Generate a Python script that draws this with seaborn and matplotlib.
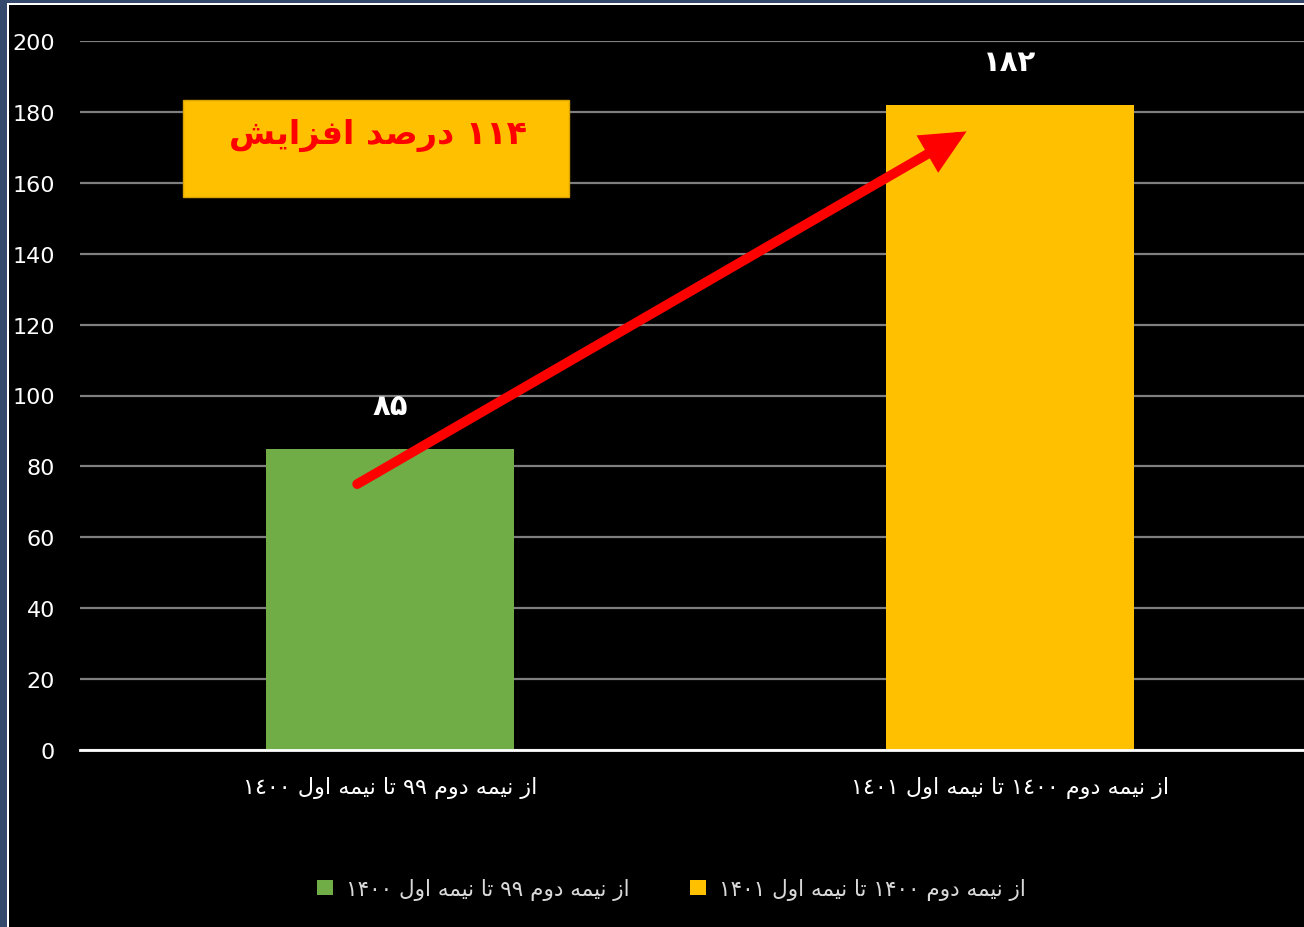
import matplotlib
matplotlib.use("Agg")
import matplotlib.pyplot as plt
from matplotlib.patches import Rectangle, Patch
import seaborn as sns
import pandas as pd

NAVY   = "#34496b"
GREEN  = "#70AD47"
YELLOW = "#FFC000"
RED    = "#FF0000"
GRID   = "#7f7f7f"
LEGTXT = "#d9d9d9"

# ── data ────────────────────────────────────────────────────────────────────
periods = ["از نیمه دوم ٩٩ تا نیمه اول ١٤٠٠",
           "از نیمه دوم ١٤٠٠ تا نیمه اول ١٤٠١"]
legend_labels = ["از نیمه دوم ۹۹ تا نیمه اول ۱۴۰۰",
                 "از نیمه دوم ۱۴۰۰ تا نیمه اول ۱۴۰۱"]
counts = [85, 182]
bar_colors = [GREEN, YELLOW]
growth_text = "۱۱۴ درصد افزایش"
y_ticks = [0, 20, 40, 60, 80, 100, 120, 140, 160, 180, 200]

# arrow annotation (data units)
arrow_from = (-0.053, 75)
arrow_to   = (0.93, 174.5)

# ── tiny Persian shaper (matplotlib has no RTL / joining support) ──────────
FORMS = {  # isolated, final, initial, medial
    "ا": ("\uFE8D", "\uFE8E", None, None),
    "ز": ("\uFEAF", "\uFEB0", None, None),
    "د": ("\uFEA9", "\uFEAA", None, None),
    "ر": ("\uFEAD", "\uFEAE", None, None),
    "و": ("\uFEED", "\uFEEE", None, None),
    "ن": ("\uFEE5", "\uFEE6", "\uFEE7", "\uFEE8"),
    "ی": ("\uFBFC", "\uFBFD", "\uFEF3", "\uFEF4"),
    "م": ("\uFEE1", "\uFEE2", "\uFEE3", "\uFEE4"),
    "ه": ("\uFEE9", "\uFEEA", "\uFEEB", "\uFEEC"),
    "ت": ("\uFE95", "\uFE96", "\uFE97", "\uFE98"),
    "ل": ("\uFEDD", "\uFEDE", "\uFEDF", "\uFEE0"),
    "ص": ("\uFEB9", "\uFEBA", "\uFEBB", "\uFEBC"),
    "ف": ("\uFED1", "\uFED2", "\uFED3", "\uFED4"),
    "ش": ("\uFEB5", "\uFEB6", "\uFEB7", "\uFEB8"),
}


def shape_word(w):
    out = []
    for i, ch in enumerate(w):
        f = FORMS.get(ch)
        if f is None:
            out.append(ch)
            continue
        prev = FORMS.get(w[i - 1]) if i > 0 else None
        nxt = FORMS.get(w[i + 1]) if i < len(w) - 1 else None
        jp = prev is not None and prev[2] is not None
        jn = nxt is not None and f[2] is not None
        if jp and jn:
            out.append(f[3])
        elif jp:
            out.append(f[1])
        elif jn:
            out.append(f[2])
        else:
            out.append(f[0])
    return "".join(reversed(out))


def rtl(s):
    words = s.split(" ")
    return " ".join(shape_word(w) if any(c in FORMS for c in w) else w
                    for w in reversed(words))


def fa_num(n):
    return str(n).translate(str.maketrans("0123456789", "۰۱۲۳۴۵۶۷۸۹"))


plt.rcParams.update({
    "font.family": ["DejaVu Sans"],
    "axes.spines.top": False,
    "axes.spines.right": False,
    "axes.spines.left": False,
})

df = pd.DataFrame({"period": [rtl(p) for p in periods], "count": counts})

fig = plt.figure(figsize=(13.04, 9.28), dpi=100, facecolor=NAVY)
# white rule + black panel inside the navy frame
fig.patches.append(Rectangle((7 / 1304, 0), 1, (928 - 4) / 928, transform=fig.transFigure,
                             facecolor="white", edgecolor="none", zorder=-3))
fig.patches.append(Rectangle((9 / 1304, 0), 1, (928 - 6) / 928, transform=fig.transFigure,
                             facecolor="black", edgecolor="none", zorder=-2))

ax = fig.add_axes([80 / 1304, 177 / 928, 1240 / 1304, 709 / 928])
ax.set_facecolor("none")

sns.barplot(data=df, x="period", y="count", hue="period", palette=bar_colors,
            width=0.4, saturation=1, legend=False, ax=ax)

ax.set_xlim(-0.5, 1.5)
ax.set_ylim(0, 200)
ax.set_yticks(y_ticks)
ax.set_axisbelow(True)
ax.yaxis.grid(True, color=GRID, linewidth=1.6)
ax.xaxis.grid(False)
ax.spines["bottom"].set_color("white")
ax.spines["bottom"].set_linewidth(2)
ax.set_xlabel("")
ax.set_ylabel("")
ax.tick_params(axis="y", length=0, pad=18, labelsize=16, labelcolor="white")
ax.tick_params(axis="x", length=0, pad=19, labelsize=16, labelcolor="white")

# value labels
for i, v in enumerate(counts):
    ax.annotate(fa_num(v), (i, v), xytext=(0, 31), textcoords="offset points",
                ha="center", va="center", fontsize=21, fontweight="bold", color="white")

# growth arrow
ax.annotate("", xy=arrow_to, xytext=arrow_from,
            arrowprops=dict(arrowstyle="-|>,head_length=1.05,head_width=0.5",
                            color=RED, lw=7, mutation_scale=20,
                            shrinkA=0, shrinkB=0, capstyle="round",
                            joinstyle="miter"))

# growth box
ax.add_patch(Rectangle((0.0831, 0.78), 0.3113, 0.1368, transform=ax.transAxes,
                       facecolor=YELLOW, edgecolor="#d9a300", linewidth=1, zorder=4))
ax.text(0.2403, 0.8688, rtl(growth_text), transform=ax.transAxes, ha="center", va="center",
        fontsize=24, fontweight="bold", color=RED, zorder=5)

# legend
handles = [Patch(facecolor=c, edgecolor="none") for c in bar_colors]
fig.legend(handles, [rtl(l) for l in legend_labels], loc="center",
           bbox_to_anchor=(0.515, 0.041), ncol=2, frameon=False, fontsize=15.5,
           labelcolor=LEGTXT, handlelength=0.75, handleheight=0.75,
           handletextpad=0.6, columnspacing=2.8)

fig.savefig("out.png", dpi=100, facecolor=NAVY)
